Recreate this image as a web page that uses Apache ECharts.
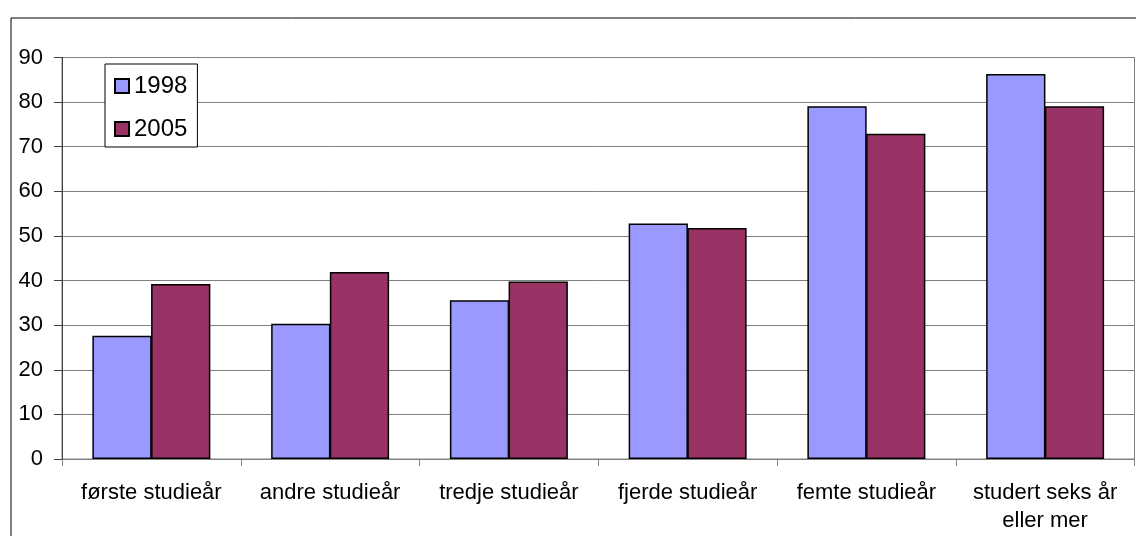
<!DOCTYPE html>
<html>
<head>
<meta charset="utf-8">
<script src="https://cdn.jsdelivr.net/npm/echarts@6/dist/echarts.min.js"></script>
<style>
html,body{margin:0;padding:0;background:#fff;}
#c{width:1136px;height:536px;}
</style>
</head>
<body>
<div id="c"></div>
<script>
const categories = ['første studieår', 'andre studieår', 'tredje studieår', 'fjerde studieår', 'femte studieår', 'studert seks år\neller mer'];
const seriesNames = ['1998', '2005'];
const values1998 = [27.6, 30.3, 35.6, 52.8, 79.1, 86.3];
const values2005 = [39.2, 41.9, 39.8, 51.8, 72.9, 79.1];
const yTicks = [0, 10, 20, 30, 40, 50, 60, 70, 80, 90];

const font = '"Liberation Sans", Arial, sans-serif';
const chart = echarts.init(document.getElementById('c'), null, {renderer: 'canvas'});
chart.setOption({
  animation: false,
  backgroundColor: '#fff',
  graphic: [{
    type: 'rect',
    left: 8.5, top: 15.5,
    shape: {width: 1200, height: 600},
    style: {fill: 'none', stroke: '#000', lineWidth: 1},
    silent: true,
    z: -10
  }],
  grid: {
    left: 62, right: 1.5, top: 57.5, bottom: 77,
    show: true, borderColor: '#808080', borderWidth: 1, backgroundColor: 'transparent'
  },
  legend: {
    orient: 'vertical',
    left: 105, top: 64,
    padding: [10, 10, 6, 9],
    itemGap: 19,
    itemWidth: 14, itemHeight: 14,
    itemTextGap: 10,
    borderColor: '#000', borderWidth: 1,
    backgroundColor: '#fff',
    icon: 'rect',
    data: seriesNames,
    textStyle: {fontFamily: font, fontSize: 24, color: '#000', lineHeight: 24}
  },
  xAxis: {
    type: 'category',
    data: categories,
    axisLine: {lineStyle: {color: '#808080', width: 1}},
    axisTick: {show: true, length: 7, lineStyle: {color: '#808080'}},
    axisLabel: {fontFamily: font, fontSize: 22, color: '#000', margin: 20, lineHeight: 28, interval: 0}
  },
  yAxis: {
    type: 'value',
    min: yTicks[0], max: yTicks[yTicks.length - 1], interval: 10,
    axisLine: {show: true, lineStyle: {color: '#404040', width: 1}},
    axisTick: {show: true, length: 8, lineStyle: {color: '#404040'}},
    axisLabel: {fontFamily: font, fontSize: 22, color: '#000', margin: 19},
    splitLine: {lineStyle: {color: '#808080', width: 1}}
  },
  series: [
    {
      name: seriesNames[0], type: 'bar', data: values1998,
      barGap: '-1%', barCategoryGap: '34%',
      itemStyle: {color: '#9999FF', borderColor: '#000', borderWidth: 1.5}
    },
    {
      name: seriesNames[1], type: 'bar', data: values2005,
      barGap: '-1%', barCategoryGap: '34%',
      itemStyle: {color: '#993366', borderColor: '#000', borderWidth: 1.5}
    }
  ]
});
</script>
</body>
</html>
